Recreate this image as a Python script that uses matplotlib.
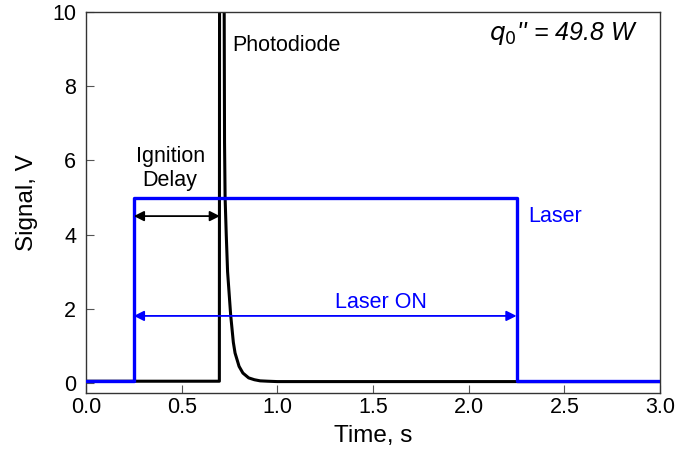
import matplotlib.pyplot as plt
import numpy as np

plt.rcParams['font.family'] = ['Liberation Sans', 'DejaVu Sans']

# photodiode trace (time s, signal V)
pd_t = [0.0, 0.697, 0.698, 0.722, 0.724, 0.727, 0.733, 0.740,
        0.756, 0.770, 0.779, 0.800, 0.820, 0.850, 0.880, 0.910, 0.950,
        1.000, 1.500, 2.250, 3.000]
pd_v = [0.05, 0.05, 10.5, 10.5, 6.5, 5.0, 4.0, 3.0,
        1.84, 1.10, 0.81, 0.45, 0.27, 0.14, 0.09, 0.06, 0.05,
        0.04, 0.04, 0.04, 0.04]

# laser trigger (time s, signal V)
laser_t = [0.0, 0.25, 0.25, 2.25, 2.25, 3.0]
laser_v = [0.05, 0.05, 5.0, 5.0, 0.05, 0.05]

t_on, t_ign, t_off = 0.25, 0.70, 2.25

fig = plt.figure(figsize=(6.77, 4.63), dpi=100)
ax = fig.add_axes([0.127, 0.151, 0.848, 0.823])

ax.plot(pd_t, pd_v, color='black', lw=2.2, zorder=2)
ax.plot(laser_t, laser_v, color='#0000ff', lw=2.4, zorder=3)

# ignition delay arrow
ax.annotate('', xy=(t_on, 4.5), xytext=(t_ign, 4.5),
            arrowprops=dict(arrowstyle='<|-|>', color='black', lw=1.3,
                            mutation_scale=15, shrinkA=0, shrinkB=0))
ax.text(0.44, 5.78, 'Ignition\nDelay', ha='center', va='center', fontsize=15.5,
        linespacing=1.2)

# laser on arrow
ax.annotate('', xy=(t_on, 1.81), xytext=(t_off, 1.81),
            arrowprops=dict(arrowstyle='<|-|>', color='#0000ff', lw=1.3,
                            mutation_scale=15, shrinkA=0, shrinkB=0))
ax.text(1.54, 1.9, 'Laser ON', ha='center', va='bottom', fontsize=15.5,
        color='#0000ff')

ax.text(2.31, 4.5, 'Laser', ha='left', va='center', fontsize=15.5, color='#0000ff')
ax.text(0.765, 9.1, 'Photodiode', ha='left', va='center', fontsize=15.5)
ax.text(2.885, 9.42, r"$q_0$'' = 49.8 W", ha='right', va='center', fontsize=18,
        style='italic')

ax.set_xlim(0, 3)
ax.set_ylim(-0.27, 10)
ax.set_xticks(np.arange(0, 3.01, 0.5))
ax.set_xticklabels([f'{v:.1f}' for v in np.arange(0, 3.01, 0.5)])
ax.set_yticks(np.arange(0, 11, 2))
ax.tick_params(direction='in', labelsize=15.5, length=6, width=0.8, color='#555555')
ax.tick_params(axis='x', pad=3)
ax.tick_params(axis='y', pad=7)
for s in ax.spines.values():
    s.set_linewidth(1.0)
    s.set_color('#333333')

ax.set_xlabel('Time, s', fontsize=17.5, labelpad=5)
ax.set_ylabel('Signal, V', fontsize=17.5, labelpad=10)

fig.savefig('out.png', dpi=100)
